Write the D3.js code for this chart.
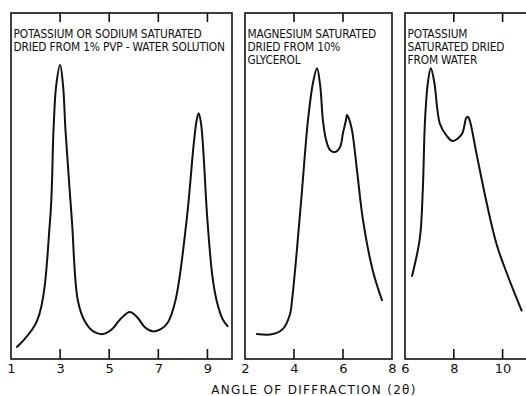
<!DOCTYPE html>
<html>
<head>
<meta charset="utf-8">
<script src="https://cdn.jsdelivr.net/npm/d3@7"></script>
<style>
  html, body { margin: 0; padding: 0; background: #fff; }
  svg { display: block; }
  text { font-family: "DejaVu Sans Condensed", "DejaVu Sans", sans-serif; fill: #111; }
</style>
</head>
<body>
<div id="chart"></div>
<script>
// panel titles, one array of lines per panel
const titles = [
  ["POTASSIUM OR SODIUM SATURATED", "DRIED FROM 1% PVP - WATER SOLUTION"],
  ["MAGNESIUM SATURATED", "DRIED FROM 10%", "GLYCEROL"],
  ["POTASSIUM", "SATURATED DRIED", "FROM WATER"]
];
const domains = [[1, 10], [2, 8], [6, 11]];
const tickValues = [[1, 3, 5, 7, 9], [2, 4, 6, 8], [6, 8, 10]];
const innerTicks = [[3, 5, 7, 9], [4, 6], [8, 10]];

// traced curves: [angle 2θ, relative intensity]
const kNa = [
  [1.24, 3.5], [2.06, 11], [2.59, 40], [2.73, 66], [2.84, 79], [3.0, 85], [3.12, 79],
  [3.22, 66], [3.48, 40], [3.72, 17], [4.0, 11], [4.35, 8], [4.74, 7.2], [5.1, 8.5],
  [5.45, 11.5], [5.84, 13.6], [6.15, 12], [6.45, 9.2], [6.77, 8], [7.1, 8.6],
  [7.38, 10.5], [7.7, 17], [8.15, 40], [8.44, 62], [8.56, 69], [8.64, 71], [8.74, 68],
  [9.0, 40], [9.2, 24], [9.37, 17], [9.62, 11.5], [9.82, 9.5]
];
const mgGly = [
  [2.49, 7.2], [3.14, 7.2], [3.55, 8.7], [3.84, 13], [3.92, 17], [4.1, 30], [4.33, 49],
  [4.57, 69], [4.78, 80], [4.94, 84], [5.07, 79], [5.18, 69], [5.31, 63.3], [5.47, 60.4],
  [5.67, 59.8], [5.88, 61.3], [6.0, 65.3], [6.12, 69], [6.16, 70.5], [6.24, 69.5],
  [6.37, 66], [6.57, 54.6], [6.82, 40], [7.22, 25.4], [7.59, 17]
];
const kWater = [
  [6.29, 24], [6.61, 35], [6.73, 49], [6.82, 69], [6.94, 80], [7.06, 84], [7.2, 80],
  [7.43, 68], [7.71, 64.5], [7.96, 63], [8.33, 65], [8.5, 69.5], [8.57, 70], [8.65, 69],
  [8.94, 59], [9.35, 45], [9.76, 33], [10.16, 25], [10.78, 14]
];
const series = [kNa, mgGly, kWater];
const axisTitle = "ANGLE OF DIFFRACTION (2\u03B8)";

const width = 526, height = 396;
const plotTop = 13, plotBottom = 359;
const panelX = [[11, 232], [245, 392], [405, 527]];

const svg = d3.select("#chart").append("svg")
  .attr("width", width)
  .attr("height", height);

const y = d3.scaleLinear().domain([0, 100]).range([plotBottom, plotTop]);
const ink = "#111";

series.forEach((data, i) => {
  const x = d3.scaleLinear().domain(domains[i]).range(panelX[i]);
  const g = svg.append("g");

  // frame
  g.append("rect")
    .attr("x", panelX[i][0])
    .attr("y", plotTop)
    .attr("width", panelX[i][1] - panelX[i][0])
    .attr("height", plotBottom - plotTop)
    .attr("fill", "none")
    .attr("stroke", ink)
    .attr("stroke-width", 1.6);

  // bottom axis labels
  const xAxis = d3.axisBottom(x)
    .tickValues(tickValues[i])
    .tickSize(0)
    .tickPadding(5)
    .tickFormat(d3.format("d"));
  const ax = g.append("g").attr("transform", `translate(0,${plotBottom})`).call(xAxis);
  ax.select(".domain").remove();
  ax.selectAll("text")
    .attr("font-size", 13)
    .attr("fill", ink)
    .style("font-family", '"DejaVu Sans", sans-serif');

  // inward ticks, top and bottom
  g.selectAll(".tb").data(innerTicks[i]).enter().append("line")
    .attr("x1", d => x(d)).attr("x2", d => x(d))
    .attr("y1", plotBottom).attr("y2", plotBottom - 10)
    .attr("stroke", ink).attr("stroke-width", 1.6);
  g.selectAll(".tt").data(innerTicks[i]).enter().append("line")
    .attr("x1", d => x(d)).attr("x2", d => x(d))
    .attr("y1", plotTop).attr("y2", plotTop + 9)
    .attr("stroke", ink).attr("stroke-width", 1.6);

  // title lines
  g.selectAll(".title").data(titles[i]).enter().append("text")
    .attr("x", panelX[i][0] + 2.5)
    .attr("y", (d, k) => 37.5 + k * 13)
    .attr("font-size", 11.8)
    .attr("letter-spacing", -0.15)
    .text(d => d);

  const line = d3.line()
    .x(d => x(d[0]))
    .y(d => y(d[1]))
    .curve(d3.curveCatmullRom.alpha(0.5));

  g.append("path")
    .datum(data)
    .attr("d", line)
    .attr("fill", "none")
    .attr("stroke", ink)
    .attr("stroke-width", 2)
    .attr("stroke-linejoin", "round")
    .attr("stroke-linecap", "round");
});

svg.append("text")
  .attr("x", 314)
  .attr("y", 393.5)
  .attr("text-anchor", "middle")
  .attr("font-size", 12)
  .attr("letter-spacing", 1.3)
  .style("font-family", '"DejaVu Sans", sans-serif')
  .text(axisTitle);
</script>
</body>
</html>
